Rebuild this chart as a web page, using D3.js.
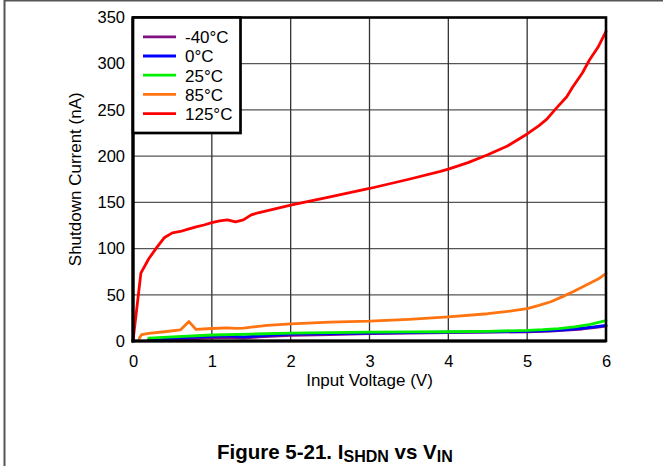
<!DOCTYPE html>
<html><head><meta charset="utf-8">
<script src="https://cdn.jsdelivr.net/npm/d3@7"></script>
<style>
html,body{margin:0;padding:0;background:#fff;}
svg{display:block;font-family:"Liberation Sans",Arial,sans-serif;}
</style></head>
<body>
<svg id="c" width="663" height="466"></svg>
<script>
// ---- data ----
const seriesNames = ["-40°C","0°C","25°C","85°C","125°C"];
const seriesColors = ["#80107f","#0000ff","#00f000","#ff7410","#ff0000"];
const vM40 = [[0.2,0.5],[0.5,1.5],[1.0,3.5],[1.2,4],[1.4,3],[1.6,4.5],[2,6],[2.5,7],[3,8],[3.5,8.5],[4,9],[4.5,9.5],[5,10],[5.3,10.8],[5.5,11.8],[5.7,13],[5.85,14.5],[6,16]];
const v0 = [[0.2,1.5],[0.5,3],[1.0,5],[1.2,5.5],[1.4,4.5],[1.6,5.5],[2,7.5],[2.5,8],[3,8.5],[3.5,9],[4,9.5],[4.5,10],[5,10.5],[5.3,11.3],[5.5,12.3],[5.7,13.8],[5.85,15.3],[6,17]];
const v25 = [[0.2,3],[0.5,4.5],[1.0,6.5],[1.5,7.5],[2,8.5],[2.5,9],[3,9.5],[3.5,9.8],[4,10],[4.5,10.5],[5,11.5],[5.2,12.3],[5.4,13.5],[5.6,15.3],[5.8,18],[6,22]];
const v85 = [[0.08,3],[0.11,7],[0.2,8.3],[0.4,10],[0.6,12],[0.71,21],[0.8,12.5],[1.0,13.5],[1.2,14.3],[1.3,13.7],[1.4,14],[1.7,17],[2.0,18.5],[2.5,20.5],[3.0,21.5],[3.5,23.5],[4.0,26],[4.5,29.5],[4.8,32.5],[5.0,35],[5.15,38.5],[5.3,42.5],[5.45,48],[5.6,54],[5.75,60.5],[5.9,67],[6.0,73]];
const v125 = [[0.0,0],[0.1,73.5],[0.2,89],[0.3,101],[0.4,112],[0.5,117],[0.6,118.5],[0.7,121],[0.8,123.5],[0.9,125.5],[1.0,128],[1.1,130],[1.2,131],[1.3,128.8],[1.4,131],[1.5,136.5],[1.6,139],[1.8,143],[2.0,147],[2.5,156],[3.0,165],[3.5,175],[3.9,183.5],[4.0,186],[4.25,193],[4.5,201.5],[4.75,211],[5.0,224],[5.15,233],[5.25,240],[5.37,252],[5.5,264],[5.58,275],[5.7,290],[5.79,304],[5.9,318],[6.0,335]];
const seriesData = [vM40, v0, v25, v85, v125];
const xTicks = [0,1,2,3,4,5,6];
const yTicks = [0,50,100,150,200,250,300,350];

// ---- layout ----
const svg = d3.select("#c");
const L=133, R=606, T=17.5, B=341;
const x = d3.scaleLinear().domain([0,6]).range([L,R]);
const y = d3.scaleLinear().domain([0,350]).range([B,T]);
const FF = "Liberation Sans, Arial, sans-serif";

// outer frame
svg.append("line").attr("x1",4.5).attr("x2",4.5).attr("y1",0).attr("y2",466).attr("stroke","#555").attr("stroke-width",2);
svg.append("line").attr("x1",4).attr("x2",663).attr("y1",0.5).attr("y2",0.5).attr("stroke","#555").attr("stroke-width",2);

// grid
svg.append("g").selectAll("line").data(yTicks.slice(1,-1)).join("line")
  .attr("x1",L).attr("x2",R).attr("y1",d=>y(d)).attr("y2",d=>y(d))
  .attr("stroke","#555").attr("stroke-width",1.3);
svg.append("g").selectAll("line").data(xTicks.slice(1,-1)).join("line")
  .attr("y1",T).attr("y2",B).attr("x1",d=>x(d)).attr("x2",d=>x(d))
  .attr("stroke","#333").attr("stroke-width",1.3);

// axes (labels only)
const xa = svg.append("g").attr("transform",`translate(0,${B})`)
  .call(d3.axisBottom(x).tickValues(xTicks).tickSize(0).tickPadding(14).tickFormat(d3.format("d")));
const ya = svg.append("g").attr("transform",`translate(${L},0)`)
  .call(d3.axisLeft(y).tickValues(yTicks).tickSize(0).tickPadding(8).tickFormat(d3.format("d")));
[xa,ya].forEach(a=>{a.select(".domain").remove();a.selectAll("text").attr("font-size",16.5).attr("fill","#000").attr("font-family",FF);});

// lines
const line = d3.line().x(d=>x(d[0])).y(d=>y(d[1]));
svg.append("g").attr("fill","none").selectAll("path").data(seriesData).join("path")
  .attr("d",line).attr("stroke",(d,i)=>seriesColors[i]).attr("stroke-width",2.8)
  .attr("stroke-linejoin","round").attr("stroke-linecap","round");

// plot border
svg.append("rect").attr("x",L).attr("y",T).attr("width",R-L).attr("height",B-T)
  .attr("fill","none").attr("stroke","#000").attr("stroke-width",2.6);
svg.append("line").attr("x1",L).attr("x2",L).attr("y1",T).attr("y2",B+1.5).attr("stroke","#000").attr("stroke-width",3.2);
svg.append("line").attr("x1",L-1.5).attr("x2",R).attr("y1",B).attr("y2",B).attr("stroke","#000").attr("stroke-width",3.2);

// legend
const lg = svg.append("g");
lg.append("rect").attr("x",L).attr("y",T).attr("width",107.5).attr("height",115.5)
  .attr("fill","#fff").attr("stroke","#000").attr("stroke-width",2.7);
seriesNames.forEach((n,i)=>{
  const yy = 36.8 + i*19.2;
  lg.append("line").attr("x1",143).attr("x2",176).attr("y1",yy).attr("y2",yy)
    .attr("stroke",seriesColors[i]).attr("stroke-width",2.8);
  lg.append("text").attr("x",185).attr("y",yy+6.3).attr("font-size",17).attr("font-family",FF).text(n);
});

// axis titles
svg.append("text").attr("x",(L+R)/2).attr("y",386).attr("text-anchor","middle").attr("font-size",17).text("Input Voltage (V)");
svg.append("text").attr("transform",`translate(81,${(T+B)/2}) rotate(-90)`).attr("text-anchor","middle").attr("font-size",17).text("Shutdown Current (nA)");

// caption
const cap = svg.append("text").attr("x",217).attr("y",459).attr("font-size",20.5).attr("font-weight","bold");
cap.append("tspan").text("Figure 5-21. I");
cap.append("tspan").attr("font-size",16).attr("dy",2.5).text("SHDN");
cap.append("tspan").attr("dy",-2.5).text(" vs V");
cap.append("tspan").attr("font-size",16).attr("dy",2.5).text("IN");
</script>
</body></html>
